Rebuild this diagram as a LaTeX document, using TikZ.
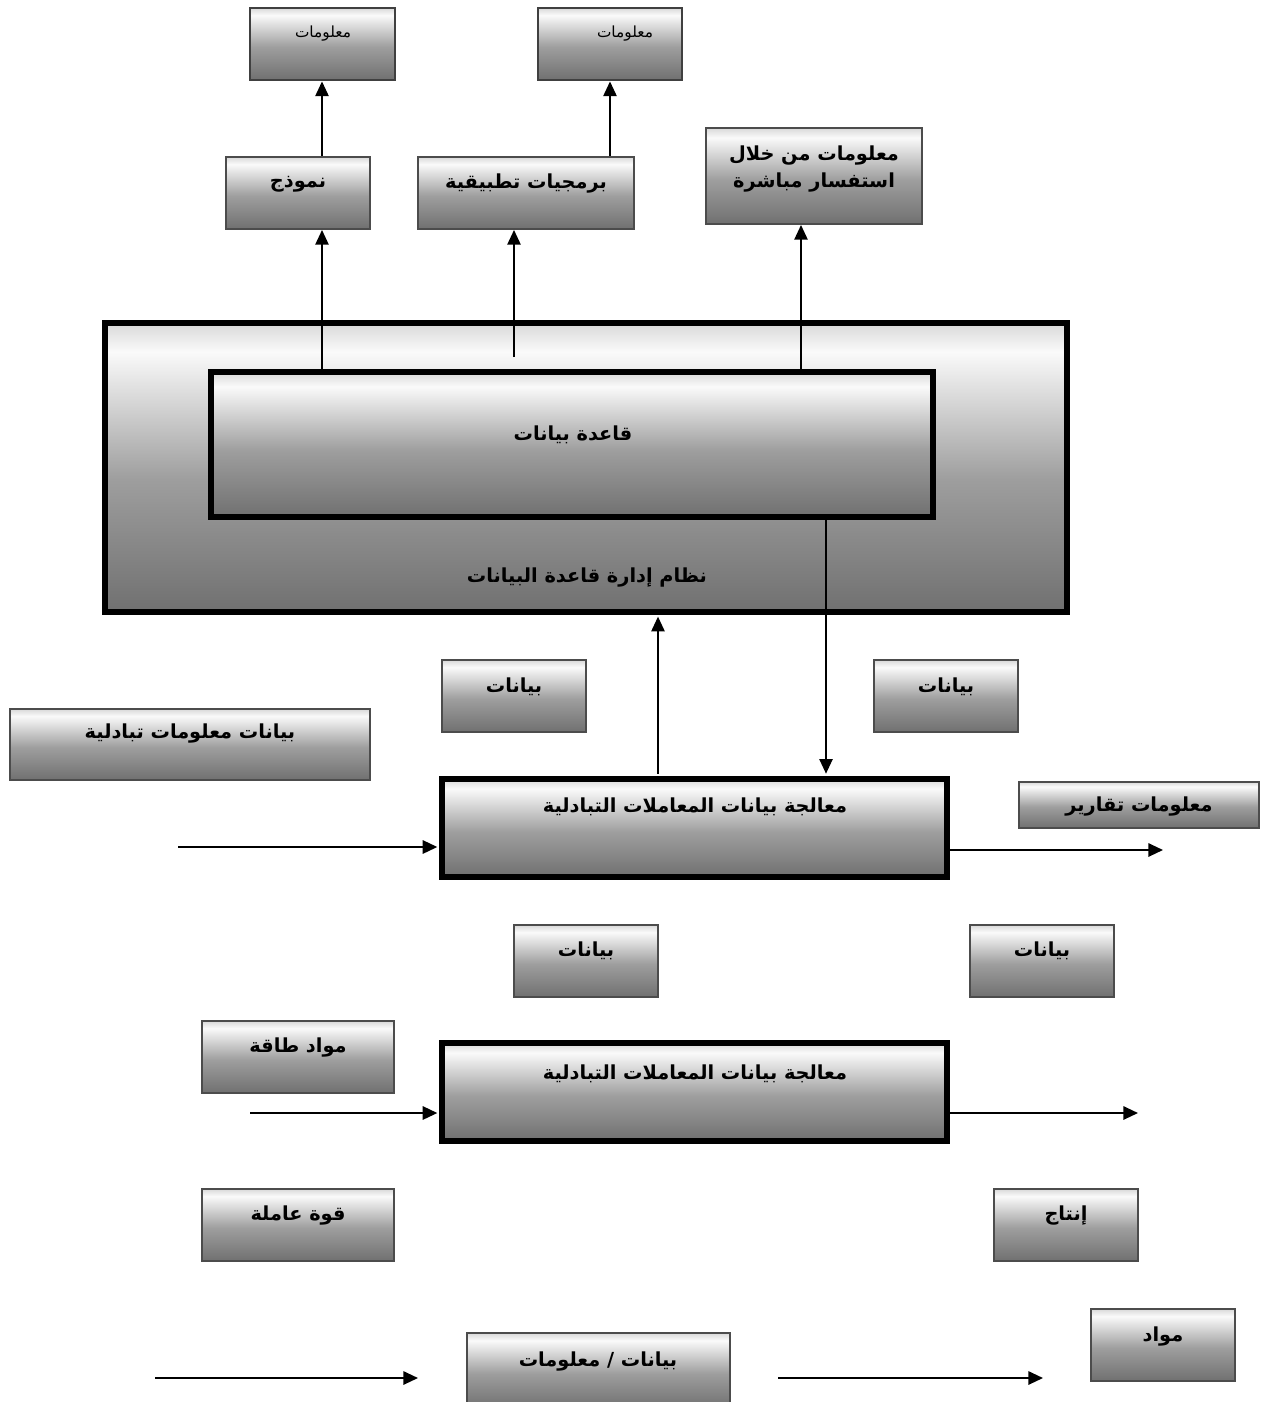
\documentclass[tikz,border=0pt]{standalone}
\usepackage{fontspec}
\newfontfamily\arabicfont[Script=Arabic]{DejaVu Sans}
\TeXXeTstate=1
\usetikzlibrary{arrows.meta,fit}
\definecolor{sA}{gray}{0.44}
\definecolor{sB}{gray}{0.62}
\definecolor{sC}{gray}{0.98}
\definecolor{sD}{gray}{0.85}
\definecolor{edge}{gray}{0.3}
\pgfdeclareverticalshading{boxsh}{100bp}{color(0bp)=(sA); color(25bp)=(sA); color(48bp)=(sB); color(70bp)=(sC); color(75bp)=(sD); color(100bp)=(sD)}
\tikzset{
  x=0.75pt, y=-0.75pt,
  box/.style={draw=edge, line width=1.5pt, shading=boxsh, inner sep=0pt},
  topbox/.style={box, line width=2.2pt, draw=black!75},
  heavy/.style={draw=black, line width=4pt, shading=boxsh, inner sep=0pt},
  txt/.style={font=\arabicfont\bfseries\fontsize{14.5}{17}\selectfont, inner sep=0pt, align=center},
  rtxt/.style={font=\arabicfont\fontsize{11.5}{14}\selectfont, inner sep=0pt},
  arr/.style={line width=1.1pt, -{Triangle[length=11pt,width=10pt]}},
  arrb/.style={line width=1.5pt, -{Triangle[length=11pt,width=10pt]}}
}
\begin{document}
\begin{tikzpicture}
\useasboundingbox (0,0) rectangle (1264,1402);
\clip (0,0) rectangle (1264,1402);
% boxes
\node[topbox, fit={(250,8) (395,80)}] (info1) {};
\node[topbox, fit={(538,8) (682,80)}] (info2) {};
\node[box, fit={(226,157) (370,229)}] (model) {};
\node[box, fit={(418,157) (634,229)}] (apps) {};
\node[box, fit={(706,128) (922,224)}] (query) {};
\node[heavy, fit={(105,323) (1067,612)}] (dbms) {};
\node[heavy, fit={(211,372) (933,517)}] (db) {};
\node[box, fit={(442,660) (586,732)}] (bay1) {};
\node[box, fit={(874,660) (1018,732)}] (bay2) {};
\node[box, fit={(10,709) (370,780)}] (txinfo) {};
\node[heavy, fit={(442,779) (947,877)}] (tps1) {};
\node[box, fit={(1019,782) (1259,828)}] (reports) {};
\node[box, fit={(514,925) (658,997)}] (bay3) {};
\node[box, fit={(970,925) (1114,997)}] (bay4) {};
\node[box, fit={(202,1021) (394,1093)}] (energy) {};
\node[heavy, fit={(442,1043) (947,1141)}] (tps2) {};
\node[box, fit={(202,1189) (394,1261)}] (labor) {};
\node[box, fit={(994,1189) (1138,1261)}] (prod) {};
\node[box, fit={(1091,1309) (1235,1381)}] (mat) {};
\node[box, fit={(467,1333) (730,1408)}] (datainfo) {};
% texts
\node[rtxt] (tinfo1) at (323,34) {\beginR معلومات\endR};
\node[rtxt] (tinfo2) at (625,34) {\beginR معلومات\endR};
\node[txt] (tmodel) at (298,184) {\beginR نموذج\endR};
\node[txt] (tapps) at (526,184) {\beginR برمجيات تطبيقية\endR};
\node[txt] (tquery) at (814,169) {\beginR معلومات من خلال\endR\\[3pt]\beginR استفسار مباشرة\endR};
\node[txt] (tdb) at (573,435) {\beginR قاعدة بيانات\endR};
\node[txt] (tdbms) at (587,578) {\beginR نظام إدارة قاعدة البيانات\endR};
\node[txt] (tbay1) at (514,687) {\beginR بيانات\endR};
\node[txt] (tbay2) at (946,687) {\beginR بيانات\endR};
\node[txt] (ttx) at (190,734) {\beginR بيانات معلومات تبادلية\endR};
\node[txt] (ttps1) at (695,807) {\beginR معالجة بيانات المعاملات التبادلية\endR};
\node[txt] (trep) at (1139,807) {\beginR معلومات تقارير\endR};
\node[txt] (tbay3) at (586,951) {\beginR بيانات\endR};
\node[txt] (tbay4) at (1042,951) {\beginR بيانات\endR};
\node[txt] (tenergy) at (298,1048) {\beginR مواد طاقة\endR};
\node[txt] (ttps2) at (695,1074) {\beginR معالجة بيانات المعاملات التبادلية\endR};
\node[txt] (tlabor) at (298,1216) {\beginR قوة عاملة\endR};
\node[txt] (tprod) at (1066,1216) {\beginR إنتاج\endR};
\node[txt] (tmat) at (1163,1336) {\beginR مواد\endR};
\node[txt] (tdi) at (598,1361) {\beginR بيانات / معلومات\endR};
% helper coordinates
\coordinate (c322) at (322,0);
\coordinate (c514) at (514,357);
\coordinate (c610) at (610,0);
\coordinate (c801) at (801,0);
\coordinate (c826) at (826,0);
\coordinate (c658) at (658,0);
\coordinate (in1) at (178,847);
\coordinate (out1) at (1163,850);
\coordinate (in2) at (250,1113);
\coordinate (out2) at (1138,1113);
\coordinate (in3) at (155,1378);
\coordinate (mid3) at (418,1378);
\coordinate (st3) at (778,1378);
\coordinate (out3) at (1043,1378);
% connectors
\draw[arr] (db.north -| c322) -- (model.south -| c322);
\draw[arr] (c514) -- (apps.south -| c514);
\draw[arr] (db.north -| c801) -- (query.south -| c801);
\draw[arr] (model.north -| c322) -- (info1.south -| c322);
\draw[arr] (apps.north -| c610) -- (info2.south -| c610);
\draw[arr] (db.south -| c826) -- ([yshift=2pt]tps1.north -| c826);
\draw[arr] ([yshift=2pt]tps1.north -| c658) -- ([yshift=-1.5pt]dbms.south -| c658);
\draw[arrb] (in1) -- ([xshift=-1.5pt]tps1.west |- in1);
\draw[arrb] (tps1.east |- out1) -- (out1);
\draw[arrb] (in2) -- ([xshift=-1.5pt]tps2.west |- in2);
\draw[arrb] (tps2.east |- out2) -- (out2);
\draw[arrb] (in3) -- (mid3);
\draw[arrb] (st3) -- (out3);
\end{tikzpicture}
\end{document}
